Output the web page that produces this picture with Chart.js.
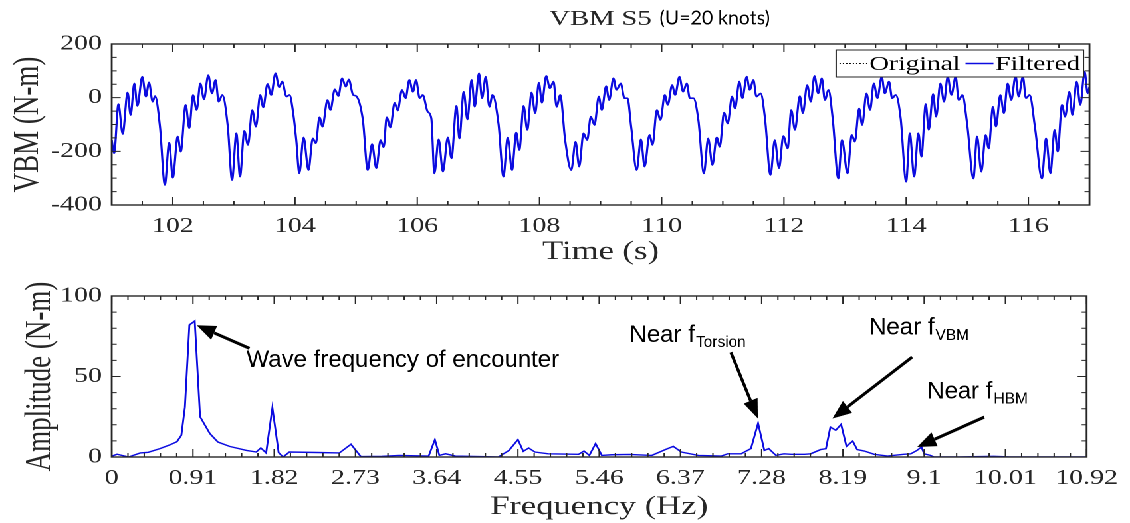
<!DOCTYPE html>
<html>
<head>
<meta charset="utf-8">
<title>VBM S5</title>
<script src="https://cdn.jsdelivr.net/npm/chart.js@4.4.1/dist/chart.umd.min.js"></script>
<style>
  html, body { margin: 0; padding: 0; background: #fff; }
  body { width: 1130px; height: 523px; overflow: hidden; position: relative; }
  /* the source figure was widened sideways, so both panels are drawn narrow and stretched */
  #stretch { position: absolute; left: 0; top: 0; width: 850px; height: 523px; transform: scaleX(1.329412); transform-origin: 0 0; }
  .panel { position: absolute; left: 0; }
  #top { top: 0; }
  #bottom { top: 270px; }
</style>
</head>
<body>
<div id="stretch">
  <div class="panel" id="top"><canvas id="chart-vbm" width="850" height="270"></canvas></div>
  <div class="panel" id="bottom"><canvas id="chart-fft" width="850" height="253"></canvas></div>
</div>
<script>
const S = 1130 / 850;
const SERIF = '"Liberation Serif", "Times New Roman", serif';
const SANS = '"Liberation Sans", Arial, sans-serif';
const INK = '#262626';
const BLUE = '#0c0ce0';

// top panel - VBM time trace (s, N-m), peaks and troughs
const vbmTime = [
  101.00, 101.04, 101.11, 101.18, 101.26, 101.31, 101.37, 101.42, 101.50, 101.56, 101.61, 101.67, 101.71, 101.79, 101.87,
  101.94, 102.00, 102.08, 102.13, 102.21, 102.27, 102.33, 102.39, 102.45, 102.51, 102.58, 102.64, 102.70, 102.75, 102.81, 102.90, 102.97,
  103.04, 103.10, 103.17, 103.23, 103.30, 103.36, 103.43, 103.48, 103.55, 103.61, 103.68, 103.74, 103.79, 103.86, 103.91, 103.97, 104.02, 104.07,
  104.14, 104.22, 104.29, 104.34, 104.40, 104.45, 104.53, 104.58, 104.65, 104.71, 104.77, 104.83, 104.88, 104.95, 105.00, 105.11, 105.19,
  105.26, 105.33, 105.40, 105.45, 105.50, 105.56, 105.63, 105.68, 105.75, 105.81, 105.87, 105.93, 105.98, 106.04, 106.09, 106.17, 106.23, 106.28,
  106.35, 106.42, 106.50, 106.56, 106.64, 106.69, 106.76, 106.82, 106.89, 106.94, 107.01, 107.06, 107.12, 107.18, 107.23, 107.33, 107.41,
  107.48, 107.55, 107.62, 107.67, 107.74, 107.80, 107.87, 107.93, 107.99, 108.04, 108.11, 108.17, 108.23, 108.28, 108.34, 108.42, 108.52,
  108.59, 108.65, 108.72, 108.78, 108.84, 108.90, 108.97, 109.02, 109.09, 109.14, 109.21, 109.26, 109.33, 109.39, 109.44, 109.50, 109.59,
  109.66, 109.72, 109.80, 109.85, 109.92, 109.98, 110.05, 110.10, 110.17, 110.22, 110.29, 110.35, 110.41, 110.46, 110.52, 110.60, 110.69,
  110.76, 110.83, 110.90, 110.95, 111.02, 111.08, 111.15, 111.20, 111.27, 111.32, 111.39, 111.44, 111.50, 111.55, 111.62, 111.69, 111.78,
  111.85, 111.92, 111.99, 112.06, 112.12, 112.18, 112.26, 112.31, 112.38, 112.44, 112.50, 112.56, 112.62, 112.67, 112.73, 112.80, 112.89,
  112.95, 113.04, 113.11, 113.16, 113.23, 113.28, 113.35, 113.41, 113.47, 113.53, 113.60, 113.65, 113.72, 113.77, 113.83, 113.91, 114.00,
  114.06, 114.13, 114.20, 114.25, 114.32, 114.37, 114.44, 114.49, 114.56, 114.62, 114.68, 114.74, 114.81, 114.86, 114.92, 115.00, 115.10,
  115.16, 115.23, 115.30, 115.35, 115.42, 115.47, 115.54, 115.60, 115.66, 115.72, 115.79, 115.84, 115.91, 115.96, 116.02, 116.11, 116.22,
  116.29, 116.36, 116.43, 116.48, 116.55, 116.60, 116.67, 116.72, 116.79, 116.85, 116.92, 116.97, 117.00
];
const vbmFiltered = [
  -158, -207, -24, -135, 19, -65, 53, -31, 78, 4, 57, -15, 6, -108, -325,
  -168, -298, -145, -201, -27, -114, 10, -46, 53, -6, 84, 16, 66, -15, 10, -108, -307,
  -133, -294, -124, -176, -46, -108, 10, -36, 51, 10, 91, 39, 60, 4, 10, -58, -158, -282,
  -148, -270, -152, -170, -73, -108, -9, -46, 31, 6, 72, 41, 68, 10, 6, -83, -270,
  -173, -263, -158, -185, -73, -111, -19, -48, 29, -2, 66, 22, 66, -2, 10, -52, -77, -282,
  -155, -276, -148, -226, -31, -152, 22, -81, 66, -34, 91, -2, 78, -34, 10, -98, -294,
  -149, -270, -130, -195, -31, -120, 19, -58, 56, -19, 81, 35, 60, -34, 10, -158, -270,
  -164, -257, -133, -158, -71, -102, 4, -46, 43, -9, 72, 29, 53, -2, -2, -108, -270,
  -155, -257, -139, -176, -46, -83, 10, -27, 47, 10, 78, 22, 53, -2, -2, -83, -282,
  -152, -251, -148, -183, -56, -96, 4, -40, 60, -2, 78, 29, 66, 4, 16, -77, -288,
  -158, -263, -143, -189, -46, -120, 6, -58, 47, -15, 81, 16, 72, -9, 29, -83, -301,
  -158, -282, -139, -164, -40, -102, 16, -46, 53, -2, 78, 16, 60, -2, 10, -77, -313,
  -133, -294, -133, -220, -24, -120, 14, -71, 53, -15, 78, 10, 78, -9, 10, -102, -301,
  -145, -276, -139, -189, -34, -108, 10, -58, 53, -9, 81, 4, 78, -2, 10, -114, -301,
  -152, -282, -120, -201, -27, -71, 22, -65, 60, -27, 97, 16, 40
];
// the dotted raw trace sits right under the filtered one
const vbmOriginal = vbmFiltered;
const timeTicks = [102, 104, 106, 108, 110, 112, 114, 116];
const timeTickLabels = ['102', '104', '106', '108', '110', '112', '114', '116'];
const vbmTicks = [-400, -200, 0, 200];

// bottom panel - amplitude spectrum (Hz, N-m)
const freq = [
  0, 0.06, 0.19, 0.32, 0.41, 0.54, 0.65, 0.73, 0.78, 0.82, 0.87, 0.93, 0.99, 1.10, 1.19, 1.32, 1.51, 1.62, 1.67, 1.73,
  1.80, 1.87, 1.92, 1.99, 2.30, 2.55, 2.68, 2.79, 3.03, 3.22, 3.55, 3.62, 3.67, 3.74, 3.85, 4.33, 4.45, 4.55, 4.61, 4.67,
  4.74, 4.89, 5.23, 5.29, 5.35, 5.42, 5.49, 5.60, 5.80, 6.05, 6.20, 6.29, 6.38, 6.57, 6.83, 6.90, 7.05, 7.16, 7.24, 7.31,
  7.36, 7.44, 7.53, 7.61, 7.76, 7.83, 7.94, 8.00, 8.05, 8.11, 8.17, 8.23, 8.30, 8.35, 8.43, 8.54, 8.69, 8.87, 8.95, 9.02,
  9.07, 9.10, 9.17, 9.21, 9.50, 9.88, 10.06, 10.92
];
const amplitude = [
  0.5, 1.7, 0, 2.5, 2.9, 5.2, 7.5, 9.5, 13.5, 31, 82, 84.5, 25, 14.5, 9.3, 6.6, 4.1, 3.1, 5.6, 2.5,
  30.6, 2.7, 0, 3.1, 2.8, 2.5, 7.9, 0.3, 0.4, 1, 0.6, 10.8, 1, 2, 0.6, 0, 4.1, 10.8, 3.5, 5.6,
  3.1, 2, 1.7, 3.7, 1, 8.3, 1, 1.4, 1.6, 1, 4.6, 6.6, 3.1, 1, 0.6, 2, 2, 5.2, 21, 4.1,
  5.2, 1, 2, 1.7, 1.7, 2, 4.6, 5.2, 18.6, 16.6, 20.3, 6.6, 9.9, 4.6, 3.7, 1.7, 0.6, 1.7, 2, 4.1,
  6.2, 2, 1, 0, 0, 0.4, 0, 0
];
const freqTicks = [0, 0.91, 1.82, 2.73, 3.64, 4.55, 5.46, 6.37, 7.28, 8.19, 9.1, 10.01, 10.92];
const freqTickLabels = ['0', '0.91', '1.82', '2.73', '3.64', '4.55', '5.46', '6.37', '7.28', '8.19', '9.1', '10.01', '10.92'];
const ampTicks = [0, 50, 100];

// callouts on the spectrum, anchored in (Hz, N-m)
const notes = [
  {text: 'Wave frequency of encounter', at: [1.51, 60], tail: [1.544, 67.5], tip: [0.952, 81.8]},
  {text: 'Near f', sub: 'Torsion', at: [5.80, 75.6], tail: [6.935, 65], tip: [7.237, 24]},
  {text: 'Near f', sub: 'VBM', at: [8.483, 80.1], tail: [8.966, 62.1], tip: [8.073, 23.9]},
  {text: 'Near f', sub: 'HBM', at: [9.134, 40.4], tail: [9.773, 24.8], tip: [9.022, 6.2]}
];

const LEFT = 111.7 / S;
const RIGHT = 850 - 1089.5 / S;
const tickFont = {family: SERIF, size: 21};
const titleFont = {family: SERIF, size: 26};

const steps = (a, b, d) => Array.from({length: Math.round((b - a) / d) + 1}, (_, i) => +(a + i * d).toFixed(3));
const pairs = (xs, ys) => xs.map((x, i) => ({x, y: ys[i]}));

// MATLAB style box with inward ticks on all four sides
function boxTicks(minorX, minorY) {
  return {
    id: 'boxTicks',
    afterDatasetsDraw(chart) {
      const {ctx, chartArea: a, scales: {x, y}} = chart;
      const vt = (v, len) => {
        const p = x.getPixelForValue(v);
        ctx.moveTo(p, a.bottom); ctx.lineTo(p, a.bottom - len);
        ctx.moveTo(p, a.top); ctx.lineTo(p, a.top + len);
      };
      const ht = (v, len) => {
        const p = y.getPixelForValue(v);
        ctx.moveTo(a.left, p); ctx.lineTo(a.left + len, p);
        ctx.moveTo(a.right, p); ctx.lineTo(a.right - len, p);
      };
      ctx.save();
      ctx.strokeStyle = INK;
      ctx.lineWidth = 1;
      ctx.beginPath();
      x.ticks.forEach(t => vt(t.value, 8));
      minorX.forEach(v => vt(v, 4));
      y.ticks.forEach(t => ht(t.value, 9 / S));
      minorY.forEach(v => ht(v, 5 / S));
      ctx.stroke();
      ctx.lineWidth = 1.4;
      ctx.strokeRect(a.left, a.top, a.width, a.height);
      ctx.restore();
    }
  };
}

// framed legend in the top right corner, built from the datasets
const legendBox = {
  id: 'legendBox',
  afterDatasetsDraw(chart) {
    const {ctx, chartArea: a} = chart;
    const sets = chart.data.datasets;
    const line = 21, gap = 1.5, sep = 4, pad = 2.5, h = 27;
    ctx.save();
    ctx.font = '20.5px ' + SERIF;
    const widths = sets.map(d => ctx.measureText(d.label).width);
    const w = pad * 2 + sets.reduce((s, d, i) => s + line + gap + widths[i], 0) + sep * (sets.length - 1);
    const right = a.right - 4.5, left = right - w, top = a.top + 6, cy = top + h / 2;
    ctx.fillStyle = '#fff';
    ctx.fillRect(left, top, w, h);
    ctx.strokeStyle = INK;
    ctx.lineWidth = 1;
    ctx.strokeRect(left, top, w, h);
    let x = left + pad;
    sets.forEach((d, i) => {
      ctx.beginPath();
      ctx.strokeStyle = d.borderColor;
      ctx.lineWidth = d.borderWidth;
      ctx.setLineDash(d.borderDash || []);
      ctx.moveTo(x, cy);
      ctx.lineTo(x + line, cy);
      ctx.stroke();
      ctx.setLineDash([]);
      ctx.fillStyle = '#000';
      ctx.textBaseline = 'middle';
      ctx.fillText(d.label, x + line + gap, cy + 1);
      x += line + gap + widths[i] + sep;
    });
    ctx.restore();
  }
};

const knotsNote = {
  id: 'knotsNote',
  afterDraw(chart) {
    const {ctx, chartArea: a} = chart;
    ctx.save();
    ctx.scale(1 / S, 1);
    ctx.font = '19.5px Lato, "Open Sans", sans-serif';
    ctx.fillStyle = '#000';
    ctx.textBaseline = 'middle';
    ctx.fillText('(U=20 knots)', (a.left + a.right) / 2 * S + 59, 18);
    ctx.restore();
  }
};

function arrow(ctx, x0, y0, x1, y1) {
  const ang = Math.atan2(y1 - y0, x1 - x0), len = 19, half = 7.5;
  const bx = x1 - len * Math.cos(ang), by = y1 - len * Math.sin(ang);
  ctx.beginPath();
  ctx.moveTo(x0, y0);
  ctx.lineTo(bx, by);
  ctx.lineWidth = 3;
  ctx.stroke();
  ctx.beginPath();
  ctx.moveTo(x1, y1);
  ctx.lineTo(bx + half * Math.sin(ang), by - half * Math.cos(ang));
  ctx.lineTo(bx - half * Math.sin(ang), by + half * Math.cos(ang));
  ctx.closePath();
  ctx.fill();
}

// callouts are drawn unstretched, like the text pasted onto the source figure
const callouts = {
  id: 'callouts',
  afterDraw(chart) {
    const {ctx, scales: {x, y}} = chart;
    const at = p => [x.getPixelForValue(p[0]) * S, y.getPixelForValue(p[1])];
    ctx.save();
    ctx.scale(1 / S, 1);
    ctx.fillStyle = '#000';
    ctx.strokeStyle = '#000';
    ctx.textBaseline = 'middle';
    ctx.textAlign = 'left';
    for (const n of notes) {
      const [tx, ty] = at(n.tail), [hx, hy] = at(n.tip), [lx, ly] = at(n.at);
      arrow(ctx, tx, ty, hx, hy);
      ctx.font = '24px ' + SANS;
      ctx.fillText(n.text, lx, ly);
      if (n.sub) {
        const w = ctx.measureText(n.text).width;
        ctx.font = '15.5px ' + SANS;
        ctx.fillText(n.sub, lx + w + 1, ly + 7.5);
      }
    }
    ctx.restore();
  }
};

function scaleX(min, max, ticks, labels, title, height, titlePad) {
  return {
    type: 'linear', min, max,
    grid: {display: false, drawTicks: false},
    border: {display: false},
    afterBuildTicks: s => { s.ticks = ticks.map(v => ({value: v})); },
    afterFit: s => { s.height = height; },
    ticks: {autoSkip: false, maxRotation: 0, padding: 9, color: INK, font: tickFont, callback: (v, i) => labels[i]},
    title: {display: true, text: title, color: INK, font: titleFont, padding: {top: 0, bottom: titlePad}}
  };
}

function scaleY(min, max, ticks, title, titlePad) {
  return {
    min, max,
    grid: {display: false, drawTicks: false},
    border: {display: false},
    afterBuildTicks: s => { s.ticks = ticks.map(v => ({value: v})); },
    afterFit: s => { s.width = LEFT; },
    ticks: {padding: 7.3, color: INK, font: tickFont},
    title: {display: true, text: title, color: INK, font: {family: SERIF, size: 27}, padding: {top: titlePad, bottom: 0}}
  };
}

const vbmChart = new Chart(document.getElementById('chart-vbm'), {
  type: 'line',
  data: {
    datasets: [
      {label: 'Original', data: pairs(vbmTime, vbmOriginal), borderColor: '#000', backgroundColor: '#000',
        borderWidth: 1, borderDash: [1, 1.5], order: 2},
      {label: 'Filtered', data: pairs(vbmTime, vbmFiltered), borderColor: BLUE, backgroundColor: BLUE,
        borderWidth: 1.6, order: 1}
    ]
  },
  options: {
    responsive: false,
    devicePixelRatio: 2,
    animation: false,
    events: [],
    elements: {point: {radius: 0}, line: {cubicInterpolationMode: 'monotone'}},
    layout: {padding: {left: 0, right: RIGHT, top: 0, bottom: 0}},
    plugins: {
      title: {display: true, text: 'VBM S5', fullSize: false, color: INK,
        font: {family: SERIF, size: 21.5, weight: 'normal'}, padding: {top: 6.5, bottom: 11.7}},
      legend: {display: false},
      tooltip: {enabled: false}
    },
    scales: {
      x: scaleX(101, 117, timeTicks, timeTickLabels, 'Time (s)', 65, 2),
      y: scaleY(-400, 200, vbmTicks, 'VBM (N-m)', 5)
    }
  },
  plugins: [boxTicks(steps(101.5, 116.5, 0.5), steps(-350, 150, 50)), legendBox, knotsNote]
});

const fftChart = new Chart(document.getElementById('chart-fft'), {
  type: 'line',
  data: {
    datasets: [
      {label: 'Amplitude', data: pairs(freq, amplitude), borderColor: BLUE, backgroundColor: BLUE,
        borderWidth: 1.4, tension: 0}
    ]
  },
  options: {
    responsive: false,
    devicePixelRatio: 2,
    animation: false,
    events: [],
    elements: {point: {radius: 0}},
    layout: {padding: {left: 0, right: RIGHT, top: 26, bottom: 0}},
    plugins: {legend: {display: false}, tooltip: {enabled: false}},
    scales: {
      x: scaleX(0, 10.92, freqTicks, freqTickLabels, 'Frequency (Hz)', 66, 0),
      y: scaleY(0, 100, ampTicks, 'Amplitude (N-m)', 14)
    }
  },
  plugins: [boxTicks(steps(0.182, 10.738, 0.182), steps(10, 90, 10)), callouts]
});
</script>
</body>
</html>
